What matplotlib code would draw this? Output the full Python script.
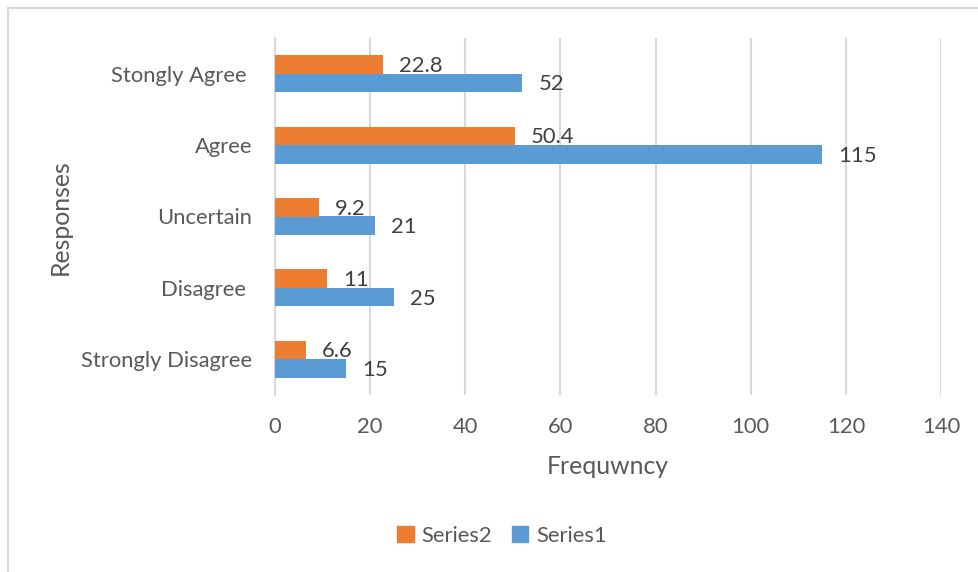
import matplotlib
matplotlib.use("Agg")
import matplotlib.pyplot as plt
from matplotlib.lines import Line2D
from matplotlib.patches import Patch
import numpy as np

plt.rcParams['font.family'] = ['Lato', 'DejaVu Sans']

categories = ["Strongly Disagree", "Disagree ", "Uncertain", "Agree", "Stongly Agree "]
series1 = [15, 25, 21, 115, 52]
series2 = [6.6, 11, 9.2, 50.4, 22.8]
xticks = [0, 20, 40, 60, 80, 100, 120, 140]

BLUE = "#5B9BD5"
ORANGE = "#ED7D31"
GRID = "#D9D9D9"
TEXT = "#595959"
LABEL = "#404040"
FS = 15.8
FS_TITLE = 17.8

W, H = 979, 572
fig = plt.figure(figsize=(W / 100, H / 100), dpi=100)
ax = fig.add_axes([275 / W, (H - 395) / H, (941 - 275) / W, (395 - 38) / H])

y = np.arange(len(categories))
h = 0.26
b1 = ax.barh(y - h / 2, series1, height=h, color=BLUE, zorder=3)
b2 = ax.barh(y + h / 2, series2, height=h, color=ORANGE, zorder=3)

for bars, vals in ((b2, series2), (b1, series1)):
    for rect, v in zip(bars, vals):
        ax.annotate(f"{v:g}", (rect.get_width(), rect.get_y() + rect.get_height() / 2),
                    xytext=(11.5, -1), textcoords="offset points",
                    ha="left", va="center", fontsize=FS, color=LABEL, zorder=4)

ax.set_xlim(0, 140)
ax.set_ylim(-0.5, len(categories) - 0.5)
ax.set_xticks(xticks)
ax.set_xticklabels([str(t) for t in xticks])
ax.set_yticks(y)
ax.set_yticklabels(categories)
ax.tick_params(axis="both", length=0, labelsize=FS, labelcolor=TEXT)
ax.tick_params(axis="x", pad=16)
ax.tick_params(axis="y", pad=16.5)
ax.xaxis.grid(True, color=GRID, linewidth=1.5, zorder=0)
for s in ("top", "right", "bottom"):
    ax.spines[s].set_visible(False)
ax.spines["left"].set_color(GRID)
ax.spines["left"].set_linewidth(1.5)

fig.text(608 / W, 1 - 466 / H, "Frequwncy", ha="center", va="center", fontsize=FS_TITLE, color=TEXT)
fig.text(60 / W, 1 - 217 / H, "Responses", ha="center", va="center", rotation=90,
         fontsize=FS_TITLE, color=TEXT)

handles = [Patch(color=ORANGE, label="Series2"), Patch(color=BLUE, label="Series1")]
fig.legend(handles=handles, loc="center", bbox_to_anchor=(502 / W, 1 - 536 / H), ncol=2,
           frameon=False, fontsize=FS, labelcolor=TEXT, handlelength=0.75, handleheight=0.75,
           handletextpad=0.35, columnspacing=0.9)

# chart area border
fig.add_artist(Line2D([8 / W, 8 / W], [0, 1 - 8 / H], color=GRID, linewidth=1.5))
fig.add_artist(Line2D([8 / W, 1], [1 - 8 / H, 1 - 8 / H], color=GRID, linewidth=1.5))

fig.savefig("out.png", dpi=100)
